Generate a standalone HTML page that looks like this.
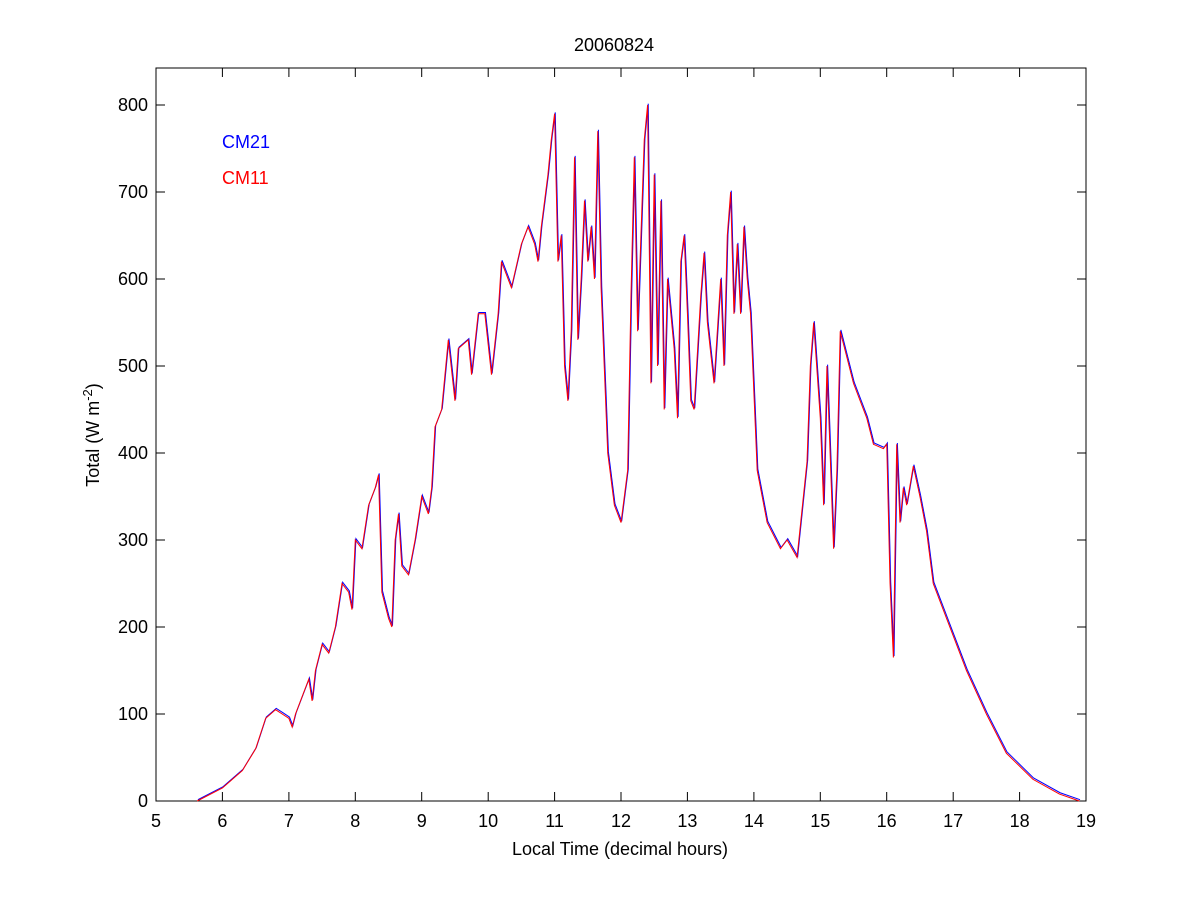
<!DOCTYPE html>
<html><head><meta charset="utf-8"><style>
body{margin:0;background:#fff;}
svg text{font-family:"Liberation Sans",Arial,sans-serif;font-size:18px;fill:#000;}
</style></head><body>
<svg width="1200" height="900" viewBox="0 0 1200 900" xmlns="http://www.w3.org/2000/svg">
<rect width="1200" height="900" fill="#fff"/>
<rect x="156" y="68" width="930" height="733" fill="#fff" stroke="#000" stroke-width="1"/>
<g stroke="#000" stroke-width="1">
<path d="M156,801v-9M222.4,801v-9M288.9,801v-9M355.3,801v-9M421.7,801v-9M488.2,801v-9M554.6,801v-9M621,801v-9M687.4,801v-9M753.9,801v-9M820.3,801v-9M886.7,801v-9M953.2,801v-9M1019.6,801v-9M1086,801v-9
M156,68v9M222.4,68v9M288.9,68v9M355.3,68v9M421.7,68v9M488.2,68v9M554.6,68v9M621,68v9M687.4,68v9M753.9,68v9M820.3,68v9M886.7,68v9M953.2,68v9M1019.6,68v9M1086,68v9"/>
<path d="M156,801h9M156,714h9M156,627h9M156,540h9M156,453h9M156,366h9M156,279h9M156,192h9M156,105h9
M1086,801h-9M1086,714h-9M1086,627h-9M1086,540h-9M1086,453h-9M1086,366h-9M1086,279h-9M1086,192h-9M1086,105h-9"/>
</g>
<g text-anchor="middle">
<text x="156" y="827">5</text><text x="222.4" y="827">6</text><text x="288.9" y="827">7</text><text x="355.3" y="827">8</text><text x="421.7" y="827">9</text><text x="488.2" y="827">10</text><text x="554.6" y="827">11</text><text x="621" y="827">12</text><text x="687.4" y="827">13</text><text x="753.9" y="827">14</text><text x="820.3" y="827">15</text><text x="886.7" y="827">16</text><text x="953.2" y="827">17</text><text x="1019.6" y="827">18</text><text x="1086" y="827">19</text>
</g>
<g text-anchor="end">
<text x="148" y="807">0</text><text x="148" y="720">100</text><text x="148" y="633">200</text><text x="148" y="546">300</text><text x="148" y="459">400</text><text x="148" y="372">500</text><text x="148" y="285">600</text><text x="148" y="198">700</text><text x="148" y="111">800</text>
</g>
<text x="614" y="51" text-anchor="middle">20060824</text>
<text x="620" y="855" text-anchor="middle">Local Time (decimal hours)</text>
<text transform="translate(99,435) rotate(-90)" text-anchor="middle">Total (W m<tspan dy="-7" font-size="13">-2</tspan><tspan dy="7">)</tspan></text>
<text x="222" y="148" style="fill:#0000ff">CM21</text>
<text x="222" y="184" style="fill:#ff0000">CM11</text>
<g transform="translate(156,801) scale(66.43,-0.87) translate(-5,0)" fill="none">
<polyline vector-effect="non-scaling-stroke" stroke="#0000ff" stroke-width="1" transform="translate(0.01,1.5)" points="5.62,0 6.0,15 6.3,35 6.5,60 6.65,95 6.8,105 6.9,100 7.0,95 7.05,85 7.1,100 7.2,120 7.3,140 7.35,115 7.4,150 7.5,180 7.6,170 7.7,200 7.8,250 7.9,240 7.95,220 8.0,300 8.1,290 8.2,340 8.3,360 8.35,375 8.4,240 8.5,210 8.55,200 8.6,300 8.65,330 8.7,270 8.8,260 8.9,300 9.0,350 9.1,330 9.15,360 9.2,430 9.3,450 9.4,530 9.5,460 9.55,520 9.7,530 9.75,490 9.85,560 9.95,560 10.05,490 10.15,560 10.2,620 10.35,590 10.5,640 10.6,660 10.7,640 10.75,620 10.8,660 10.9,720 10.95,760 11.0,790 11.05,620 11.1,650 11.15,500 11.2,460 11.25,540 11.3,740 11.35,530 11.4,600 11.45,690 11.5,620 11.55,660 11.6,600 11.65,770 11.7,590 11.8,400 11.9,340 12.0,320 12.1,380 12.15,580 12.2,740 12.25,540 12.3,650 12.35,760 12.4,800 12.45,480 12.5,720 12.55,500 12.6,690 12.65,450 12.7,600 12.8,520 12.85,440 12.9,620 12.95,650 13.0,560 13.05,460 13.1,450 13.2,580 13.25,630 13.3,550 13.4,480 13.5,600 13.55,500 13.6,650 13.65,700 13.7,560 13.75,640 13.8,560 13.85,660 13.9,600 13.95,560 14.05,380 14.2,320 14.4,290 14.5,300 14.65,280 14.8,390 14.85,500 14.9,550 15.0,440 15.05,340 15.1,500 15.2,290 15.25,380 15.3,540 15.4,510 15.5,480 15.6,460 15.7,440 15.8,410 15.95,405 16.0,410 16.05,250 16.1,165 16.15,410 16.2,320 16.25,360 16.3,340 16.4,385 16.5,350 16.6,310 16.7,250 16.9,210 17.0,190 17.2,150 17.5,100 17.8,55 18.2,25 18.6,8 18.9,0"/>
<polyline vector-effect="non-scaling-stroke" stroke="#ff0000" stroke-width="1" points="5.62,0 6.0,15 6.3,35 6.5,60 6.65,95 6.8,105 6.9,100 7.0,95 7.05,85 7.1,100 7.2,120 7.3,140 7.35,115 7.4,150 7.5,180 7.6,170 7.7,200 7.8,250 7.9,240 7.95,220 8.0,300 8.1,290 8.2,340 8.3,360 8.35,375 8.4,240 8.5,210 8.55,200 8.6,300 8.65,330 8.7,270 8.8,260 8.9,300 9.0,350 9.1,330 9.15,360 9.2,430 9.3,450 9.4,530 9.5,460 9.55,520 9.7,530 9.75,490 9.85,560 9.95,560 10.05,490 10.15,560 10.2,620 10.35,590 10.5,640 10.6,660 10.7,640 10.75,620 10.8,660 10.9,720 10.95,760 11.0,790 11.05,620 11.1,650 11.15,500 11.2,460 11.25,540 11.3,740 11.35,530 11.4,600 11.45,690 11.5,620 11.55,660 11.6,600 11.65,770 11.7,590 11.8,400 11.9,340 12.0,320 12.1,380 12.15,580 12.2,740 12.25,540 12.3,650 12.35,760 12.4,800 12.45,480 12.5,720 12.55,500 12.6,690 12.65,450 12.7,600 12.8,520 12.85,440 12.9,620 12.95,650 13.0,560 13.05,460 13.1,450 13.2,580 13.25,630 13.3,550 13.4,480 13.5,600 13.55,500 13.6,650 13.65,700 13.7,560 13.75,640 13.8,560 13.85,660 13.9,600 13.95,560 14.05,380 14.2,320 14.4,290 14.5,300 14.65,280 14.8,390 14.85,500 14.9,550 15.0,440 15.05,340 15.1,500 15.2,290 15.25,380 15.3,540 15.4,510 15.5,480 15.6,460 15.7,440 15.8,410 15.95,405 16.0,410 16.05,250 16.1,165 16.15,410 16.2,320 16.25,360 16.3,340 16.4,385 16.5,350 16.6,310 16.7,250 16.9,210 17.0,190 17.2,150 17.5,100 17.8,55 18.2,25 18.6,8 18.9,0"/>
</g>
</svg>
</body></html>
